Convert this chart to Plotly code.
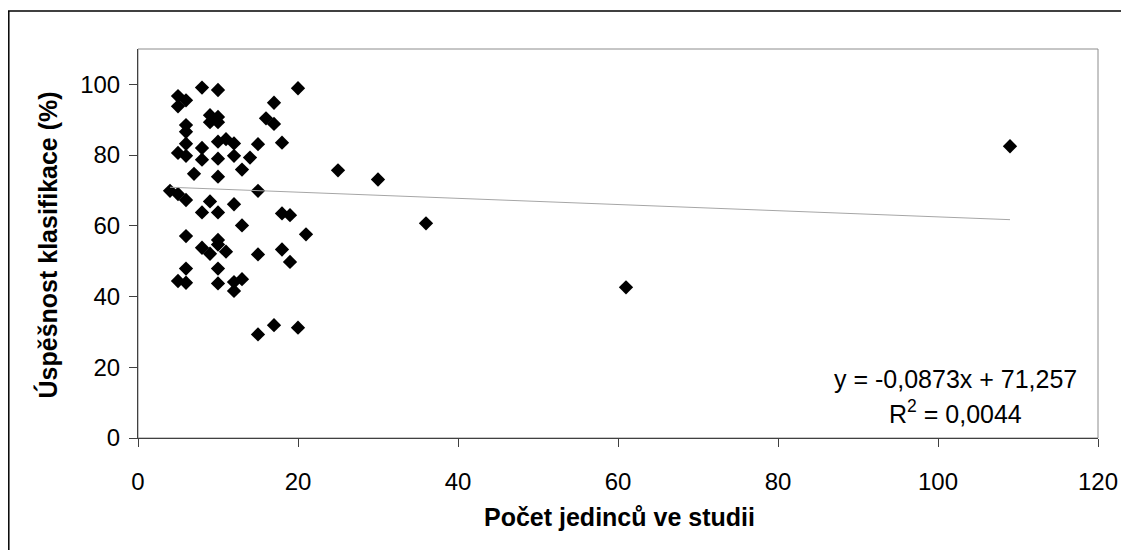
import plotly.graph_objects as go

# Data
pocet_jedincu = [8, 10, 20, 5, 6, 5, 17, 9, 10, 9, 10, 16, 17, 6, 6, 10, 11, 12, 6, 15,
                 18, 8, 5, 6, 8, 10, 12, 14, 7, 10, 13, 4, 5, 6, 15, 9, 12, 8, 10, 18,
                 19, 13, 6, 21, 10, 8, 9, 10, 11, 15, 18, 19, 6, 10, 5, 6, 10, 12, 13, 12,
                 15, 17, 20, 25, 30, 36, 61, 109]
uspesnost = [99.1, 98.4, 98.9, 96.7, 95.5, 93.8, 94.8, 91.3, 90.8, 89.3, 89.3, 90.4, 88.8, 88.5, 86.6,
             83.8, 84.5, 83.3, 83.2, 83.1, 83.5, 82.0, 80.6, 79.8, 78.7, 79.0, 79.8, 79.3, 74.7, 73.9,
             75.9, 69.9, 69.0, 67.3, 69.9, 66.9, 66.1, 63.8, 63.8, 63.5, 63.0, 60.1, 57.1, 57.6, 56.0,
             53.8, 52.1, 54.7, 52.7, 51.9, 53.3, 49.8, 47.9, 47.9, 44.4, 43.9, 43.7, 44.1, 44.9, 41.6,
             29.3, 31.9, 31.2, 75.7, 73.1, 60.7, 42.6, 82.5]

# Linear trend (as printed on the chart)
trend_slope = -0.0873
trend_intercept = 71.257
trend_label = ["y = -0,0873x + 71,257", "R<sup>2</sup> = 0,0044"]

x_ticks = [0, 20, 40, 60, 80, 100, 120]
y_ticks = [0, 20, 40, 60, 80, 100]

x_title = "<b>Počet jedinců ve studii</b>"
y_title = "<b>Úspěšnost klasifikace (%)</b>"

trend_x = [min(pocet_jedincu), max(pocet_jedincu)]
trend_y = [trend_slope * v + trend_intercept for v in trend_x]

FONT = "Liberation Sans, Arial, sans-serif"

fig = go.Figure()
fig.add_trace(go.Scatter(
    x=pocet_jedincu, y=uspesnost, mode="markers",
    marker=dict(symbol="diamond", size=11, color="black", line=dict(width=0)),
    showlegend=False, hoverinfo="x+y"))
fig.add_trace(go.Scatter(
    x=trend_x, y=trend_y, mode="lines",
    line=dict(color="#a6a6a6", width=1), showlegend=False, hoverinfo="skip"))

W, H = 1129, 550
L, R, T, B = 130, 39, 41, 120
pw, ph = W - L - R, H - T - B


def px(xpx):
    return (xpx - L) / pw


def py(ypx):
    return (H - B - ypx) / ph


fig.update_layout(
    width=W, height=H,
    margin=dict(l=L, r=R, t=T, b=B, pad=0),
    paper_bgcolor="white", plot_bgcolor="white",
    font=dict(family=FONT, size=24, color="black"),
    xaxis=dict(range=[0, 120], tickvals=x_ticks, showgrid=False, zeroline=False,
               showline=True, linecolor="#404040", linewidth=1,
               ticks="outside", ticklen=8, tickcolor="#404040",
               tickfont=dict(size=24, family=FONT), ticklabelstandoff=14, fixedrange=True),
    yaxis=dict(range=[0, 110], tickvals=y_ticks, showgrid=False, zeroline=False,
               showline=True, linecolor="#404040", linewidth=1,
               ticks="outside", ticklen=8, tickcolor="#404040",
               tickfont=dict(size=24, family=FONT), ticklabelstandoff=4, fixedrange=True),
    shapes=[
        dict(type="rect", xref="paper", yref="paper", x0=0, x1=1, y0=0, y1=1,
             line=dict(color="#8c8c8c", width=1), layer="below"),
        # outer chart-area border (left and top)
        dict(type="line", xref="paper", yref="paper",
             x0=px(0.8), x1=px(0.8), y0=py(3), y1=py(H + 5),
             line=dict(color="black", width=1.5)),
        dict(type="line", xref="paper", yref="paper",
             x0=px(0), x1=px(W + 5), y0=py(3), y1=py(3),
             line=dict(color="black", width=1.5)),
    ],
    annotations=[
        dict(xref="paper", yref="paper", x=px(611), y=py(509), text=x_title, showarrow=False,
             font=dict(size=25, family=FONT), xanchor="center", yanchor="middle"),
        dict(xref="paper", yref="paper", x=px(39), y=py(237.5), text=y_title, showarrow=False,
             textangle=-90, font=dict(size=25, family=FONT), xanchor="center", yanchor="middle"),
        dict(xref="x", yref="y", x=102.2, y=12.3, text=trend_label[0], showarrow=False,
             font=dict(size=25, family=FONT), xanchor="center", yanchor="bottom"),
        dict(xref="x", yref="y", x=102.2, y=2.4, text=trend_label[1], showarrow=False,
             font=dict(size=25, family=FONT), xanchor="center", yanchor="bottom"),
    ],
)

fig.write_html("out.html")
